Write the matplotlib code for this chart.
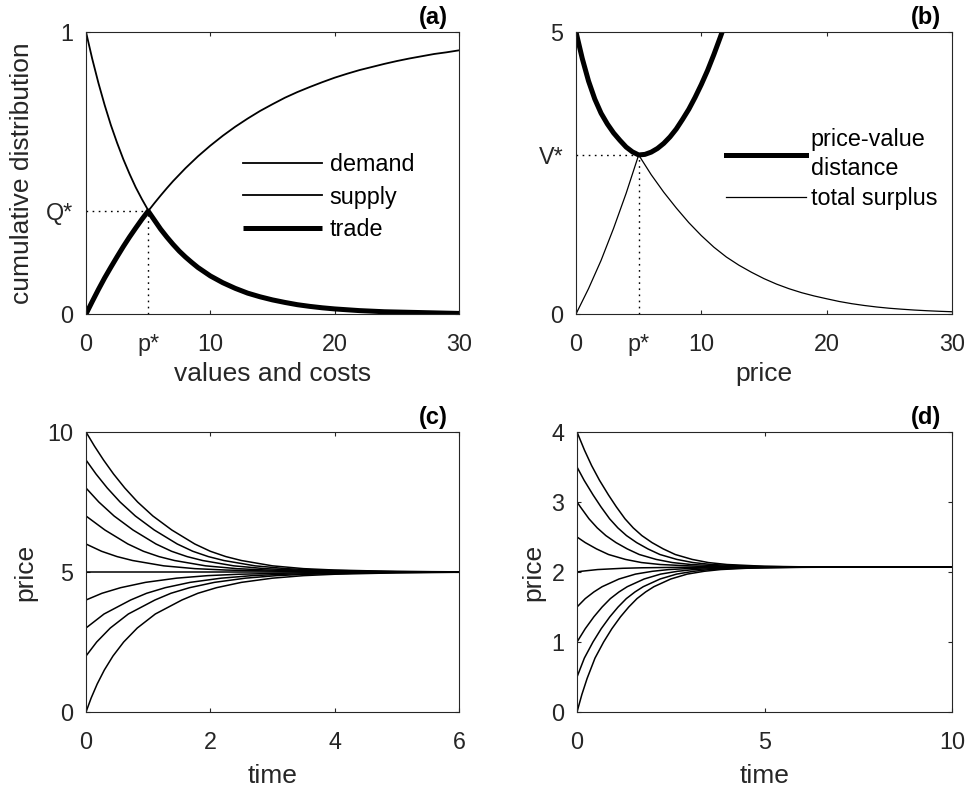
import matplotlib
matplotlib.use('Agg')
import matplotlib.pyplot as plt
import numpy as np

plt.rcParams['font.family'] = ['Liberation Sans', 'DejaVu Sans']

# ---------------- Panel (a): demand / supply ----------------
values_costs = [0, 0.5, 1, 1.5, 2, 2.5, 3, 3.5, 4, 4.5, 5, 5.5, 6, 6.5, 7, 7.5, 8, 8.5, 9, 9.5, 10,
                11, 12, 13, 14, 15, 16, 17, 18, 19, 20, 21, 22, 23, 24, 25, 26, 27, 28, 29, 30]
demand = [1.000, 0.905, 0.819, 0.741, 0.670, 0.607, 0.549, 0.497, 0.449, 0.407, 0.368, 0.333, 0.301,
          0.273, 0.247, 0.223, 0.202, 0.183, 0.165, 0.150, 0.135,
          0.111, 0.091, 0.074, 0.061, 0.050, 0.041, 0.033, 0.027, 0.022, 0.018, 0.015, 0.012, 0.010,
          0.008, 0.007, 0.006, 0.005, 0.004, 0.003, 0.002]
supply = [0.000, 0.044, 0.087, 0.128, 0.166, 0.203, 0.239, 0.273, 0.305, 0.336, 0.365, 0.393, 0.420,
          0.446, 0.471, 0.494, 0.517, 0.538, 0.559, 0.578, 0.597,
          0.632, 0.664, 0.693, 0.720, 0.744, 0.767, 0.787, 0.805, 0.822, 0.838, 0.852, 0.865, 0.876,
          0.887, 0.897, 0.906, 0.914, 0.922, 0.928, 0.935]
p_star = 5.0
q_star = 0.365

# ---------------- Panel (b): distance / surplus ----------------
price_dist = [0, 0.5, 1, 1.5, 2, 2.5, 3, 3.5, 4, 4.5, 5, 5.5, 6, 6.5, 7, 7.5, 8, 8.5, 9, 9.5,
              10, 10.5, 11, 11.5, 12]
distance = [5.00, 4.53, 4.13, 3.81, 3.56, 3.37, 3.21, 3.08, 2.96, 2.875, 2.82, 2.83, 2.87, 2.935,
            3.025, 3.14, 3.28, 3.45, 3.63, 3.84, 4.07, 4.32, 4.60, 4.90, 5.21]
price_surplus = list(range(0, 31))
surplus = [0.00, 0.45, 0.95, 1.52, 2.14, 2.82, 2.47, 2.16, 1.88, 1.62, 1.39, 1.185, 1.01, 0.865,
           0.74, 0.627, 0.53, 0.448, 0.378, 0.32, 0.27, 0.222, 0.183, 0.151, 0.124, 0.102, 0.085,
           0.070, 0.058, 0.048, 0.04]
v_star = 2.82

# ---------------- Panel (c): price paths ----------------
c_t_10 = [0, 0.135, 0.282, 0.443, 0.624, 0.83, 1.076, 1.38, 1.75, 2.0, 2.25, 2.5, 3.0, 3.5, 4.0, 5.0, 6.0]
c_p_10 = [10, 9.5, 9.0, 8.5, 8.0, 7.5, 7.0, 6.5, 6.0, 5.74, 5.55, 5.41, 5.22, 5.12, 5.07, 5.02, 5.006]
c_t_9 = [0, 0.161, 0.342, 0.548, 0.794, 1.098, 1.468, 1.718, 1.968, 2.218, 2.718, 3.218, 3.718, 4.718, 5.718, 6.0]
c_p_9 = [9.0, 8.5, 8.0, 7.5, 7.0, 6.5, 6.0, 5.74, 5.55, 5.41, 5.22, 5.12, 5.07, 5.02, 5.006, 5.005]
c_t_8 = [0, 0.206, 0.452, 0.756, 1.126, 1.376, 1.626, 1.876, 2.376, 2.876, 3.376, 4.376, 5.376, 6.0]
c_p_8 = [8.0, 7.5, 7.0, 6.5, 6.0, 5.74, 5.55, 5.41, 5.22, 5.12, 5.07, 5.02, 5.006, 5.003]
c_t_7 = [0, 0.304, 0.674, 0.924, 1.174, 1.424, 1.924, 2.424, 2.924, 3.924, 4.924, 6.0]
c_p_7 = [7.0, 6.5, 6.0, 5.74, 5.55, 5.41, 5.22, 5.12, 5.07, 5.02, 5.006, 5.002]
c_t_6 = [0, 0.25, 0.5, 0.75, 1.25, 1.75, 2.25, 3.25, 4.25, 6.0]
c_p_6 = [6.0, 5.74, 5.55, 5.41, 5.22, 5.12, 5.07, 5.02, 5.006, 5.001]
c_t_5 = [0, 6.0]
c_p_5 = [5.0, 5.0]
c_t_4 = [0, 0.257, 0.557, 0.957, 1.457, 1.957, 2.457, 3.457, 4.457, 6.0]
c_p_4 = [4.0, 4.24, 4.44, 4.63, 4.78, 4.87, 4.92, 4.97, 4.99, 4.998]
c_t_3 = [0, 0.29, 0.718, 0.975, 1.275, 1.675, 2.175, 2.675, 3.175, 4.175, 5.175, 6.0]
c_p_3 = [3.0, 3.5, 4.0, 4.24, 4.44, 4.63, 4.78, 4.87, 4.92, 4.97, 4.99, 4.995]
c_t_2 = [0, 0.172, 0.391, 0.681, 1.109, 1.366, 1.666, 2.066, 2.566, 3.066, 3.566, 4.566, 5.566, 6.0]
c_p_2 = [2.0, 2.5, 3.0, 3.5, 4.0, 4.24, 4.44, 4.63, 4.78, 4.87, 4.92, 4.97, 4.99, 4.992]
c_t_0 = [0, 0.083, 0.18, 0.295, 0.434, 0.606, 0.825, 1.115, 1.543, 1.8, 2.1, 2.5, 3.0, 3.5, 4.0, 5.0, 6.0]
c_p_0 = [0, 0.5, 1.0, 1.5, 2.0, 2.5, 3.0, 3.5, 4.0, 4.24, 4.44, 4.63, 4.78, 4.87, 4.92, 4.97, 4.99]

# ---------------- Panel (d): price paths ----------------
d_t_4 = [0, 0.2, 0.39, 0.6, 0.84, 1.05, 1.28, 1.5, 1.73, 2.0, 2.3, 2.62, 3.07, 3.5, 4.0, 5.0, 6.0, 7.0, 8.0, 10.0]
d_p_4 = [4.0, 3.74, 3.52, 3.31, 3.10, 2.93, 2.76, 2.63, 2.52, 2.42, 2.33, 2.25, 2.18, 2.135, 2.107, 2.082, 2.074, 2.071, 2.07, 2.07]
d_t_35 = [0, 0.19, 0.43, 0.64, 0.87, 1.09, 1.32, 1.59, 1.89, 2.21, 2.66, 3.09, 3.59, 4.59, 5.59, 6.59, 7.59, 10.0]
d_p_35 = [3.5, 3.31, 3.10, 2.93, 2.76, 2.63, 2.52, 2.42, 2.33, 2.25, 2.18, 2.135, 2.107, 2.082, 2.074, 2.071, 2.07, 2.07]
d_t_3 = [0, 0.09, 0.32, 0.54, 0.77, 1.04, 1.34, 1.66, 2.11, 2.54, 3.04, 4.04, 5.04, 6.04, 7.04, 10.0]
d_p_3 = [3.0, 2.93, 2.76, 2.63, 2.52, 2.42, 2.33, 2.25, 2.18, 2.135, 2.107, 2.082, 2.074, 2.071, 2.07, 2.07]
d_t_25 = [0, 0.22, 0.52, 0.84, 1.29, 1.72, 2.22, 3.22, 4.22, 5.22, 6.22, 10.0]
d_p_25 = [2.5, 2.42, 2.33, 2.25, 2.18, 2.135, 2.107, 2.082, 2.074, 2.071, 2.07, 2.07]
d_t_2 = [0, 0.11, 0.55, 1.22, 1.72, 2.72, 3.72, 4.72, 10.0]
d_p_2 = [2.0, 2.01, 2.035, 2.053, 2.06, 2.067, 2.069, 2.07, 2.07]
d_t_15 = [0, 0.22, 0.45, 0.67, 1.12, 1.56, 2.01, 2.45, 3.12, 3.62, 4.62, 5.62, 6.62, 10.0]
d_p_15 = [1.5, 1.62, 1.715, 1.79, 1.90, 1.97, 2.01, 2.035, 2.053, 2.06, 2.067, 2.069, 2.07, 2.07]
d_t_1 = [0, 0.22, 0.45, 0.67, 0.89, 1.12, 1.34, 1.79, 2.23, 2.68, 3.12, 3.79, 4.29, 5.29, 6.29, 7.29, 10.0]
d_p_1 = [1.0, 1.19, 1.36, 1.50, 1.62, 1.715, 1.79, 1.90, 1.97, 2.01, 2.035, 2.053, 2.06, 2.067, 2.069, 2.07, 2.07]
d_t_05 = [0, 0.196, 0.426, 0.646, 0.876, 1.096, 1.316, 1.546, 1.766, 2.216, 2.656, 3.106, 3.546, 4.216, 4.716, 5.716, 6.716, 7.716, 10.0]
d_p_05 = [0.5, 0.77, 1.00, 1.19, 1.36, 1.50, 1.62, 1.715, 1.79, 1.90, 1.97, 2.01, 2.035, 2.053, 2.06, 2.067, 2.069, 2.07, 2.07]
d_t_0 = [0, 0.13, 0.27, 0.48, 0.71, 0.93, 1.16, 1.38, 1.6, 1.83, 2.05, 2.5, 2.94, 3.39, 3.83, 4.5, 5.0, 6.0, 7.0, 8.0, 10.0]
d_p_0 = [0, 0.25, 0.48, 0.77, 1.00, 1.19, 1.36, 1.50, 1.62, 1.715, 1.79, 1.90, 1.97, 2.01, 2.035, 2.053, 2.06, 2.067, 2.069, 2.07, 2.07]

# ---------------- styling ----------------
AX_COL = '#262626'
TICK_FS = 16.8
LABEL_FS = 19
TITLE_FS = 17

fig = plt.figure(figsize=(9.67, 7.87), dpi=100)
W, H = 967.0, 787.0


def make_axes(l, r, t, b):
    return fig.add_axes([l / W, 1 - b / H, (r - l) / W, (b - t) / H])


def style(ax):
    for s in ax.spines.values():
        s.set_color(AX_COL)
        s.set_linewidth(0.8)
    ax.tick_params(which='major', direction='in', length=3.2, width=0.8, top=True, right=True,
                   colors=AX_COL, labelsize=TICK_FS)
    ax.tick_params(which='minor', direction='in', length=0, top=False, right=False,
                   colors=AX_COL, labelsize=TICK_FS)
    ax.tick_params(axis='x', which='both', pad=14)
    ax.tick_params(axis='y', which='both', pad=9)


def panel_label(ax, s):
    ax.text(0.97, 1.012, s, transform=ax.transAxes, ha='right', va='bottom',
            fontsize=TITLE_FS, fontweight='bold', color='black')


dot_style = dict(color='black', lw=1.0, linestyle=(0, (1.2, 3.2)))

# ----- (a) -----
axa = make_axes(86, 459, 32, 314)
va = np.array(values_costs)
dm = np.array(demand)
sp = np.array(supply)
axa.plot(va, dm, color='black', lw=1.3, label='demand')
axa.plot(va, sp, color='black', lw=1.3, label='supply')
axa.plot(va, np.minimum(dm, sp), color='black', lw=3.6, label='trade', solid_capstyle='butt')
axa.plot([0, p_star], [q_star, q_star], **dot_style)
axa.plot([p_star, p_star], [0, q_star], **dot_style)
axa.set_xlim(0, 30)
axa.set_ylim(0, 1)
axa.set_xticks([0, 10, 20, 30])
axa.set_yticks([0, 1])
axa.set_xticks([p_star], ['p*'], minor=True)
axa.set_yticks([q_star], ['Q*'], minor=True)
axa.set_xlabel('values and costs', fontsize=LABEL_FS, color=AX_COL, labelpad=4)
axa.set_ylabel('cumulative distribution', fontsize=LABEL_FS, color=AX_COL, labelpad=9)
style(axa)
axa.legend(loc='upper left', bbox_to_anchor=(0.42, 0.570), frameon=False, fontsize=TICK_FS,
           handlelength=3.4, handletextpad=0.33, labelspacing=0.40, borderpad=0, borderaxespad=0)
panel_label(axa, '(a)')

# ----- (b) -----
axb = make_axes(576, 952, 32, 314)
axb.plot(price_dist, distance, color='black', lw=3.6, label='price-value\ndistance')
axb.plot(price_surplus, surplus, color='black', lw=0.9, label='total surplus')
axb.plot([0, p_star], [v_star, v_star], **dot_style)
axb.plot([p_star, p_star], [0, v_star], **dot_style)
axb.set_xlim(0, 30)
axb.set_ylim(0, 5)
axb.set_xticks([0, 10, 20, 30])
axb.set_yticks([0, 5])
axb.set_xticks([p_star], ['p*'], minor=True)
axb.set_yticks([v_star], ['V*'], minor=True)
axb.set_xlabel('price', fontsize=LABEL_FS, color=AX_COL, labelpad=4)
style(axb)
legb = axb.legend(loc='upper left', bbox_to_anchor=(0.40, 0.661), frameon=False, fontsize=TICK_FS,
                  handlelength=3.4, handletextpad=0.22, labelspacing=0.30, borderpad=0, borderaxespad=0)
for txt in legb.get_texts():
    txt.set_linespacing(1.36)
panel_label(axb, '(b)')

# ----- (c) -----
axc = make_axes(86, 459, 432, 712)
c_curves = [(c_t_10, c_p_10), (c_t_9, c_p_9), (c_t_8, c_p_8), (c_t_7, c_p_7), (c_t_6, c_p_6),
            (c_t_5, c_p_5), (c_t_4, c_p_4), (c_t_3, c_p_3), (c_t_2, c_p_2), (c_t_0, c_p_0)]
for t, p in c_curves:
    axc.plot(t, p, color='black', lw=1.1)
axc.set_xlim(0, 6)
axc.set_ylim(0, 10)
axc.set_xticks([0, 2, 4, 6])
axc.set_yticks([0, 5, 10])
axc.set_xlabel('time', fontsize=LABEL_FS, color=AX_COL, labelpad=7)
axc.set_ylabel('price', fontsize=LABEL_FS, color=AX_COL, labelpad=7)
style(axc)
panel_label(axc, '(c)')

# ----- (d) -----
axd = make_axes(577, 952, 432, 712)
d_curves = [(d_t_4, d_p_4), (d_t_35, d_p_35), (d_t_3, d_p_3), (d_t_25, d_p_25), (d_t_2, d_p_2),
            (d_t_15, d_p_15), (d_t_1, d_p_1), (d_t_05, d_p_05), (d_t_0, d_p_0)]
for t, p in d_curves:
    axd.plot(t, p, color='black', lw=1.1)
axd.set_xlim(0, 10)
axd.set_ylim(0, 4)
axd.set_xticks([0, 5, 10])
axd.set_yticks([0, 1, 2, 3, 4])
axd.set_xlabel('time', fontsize=LABEL_FS, color=AX_COL, labelpad=7)
axd.set_ylabel('price', fontsize=LABEL_FS, color=AX_COL, labelpad=4)
style(axd)
panel_label(axd, '(d)')

fig.savefig('out.png', dpi=100)
